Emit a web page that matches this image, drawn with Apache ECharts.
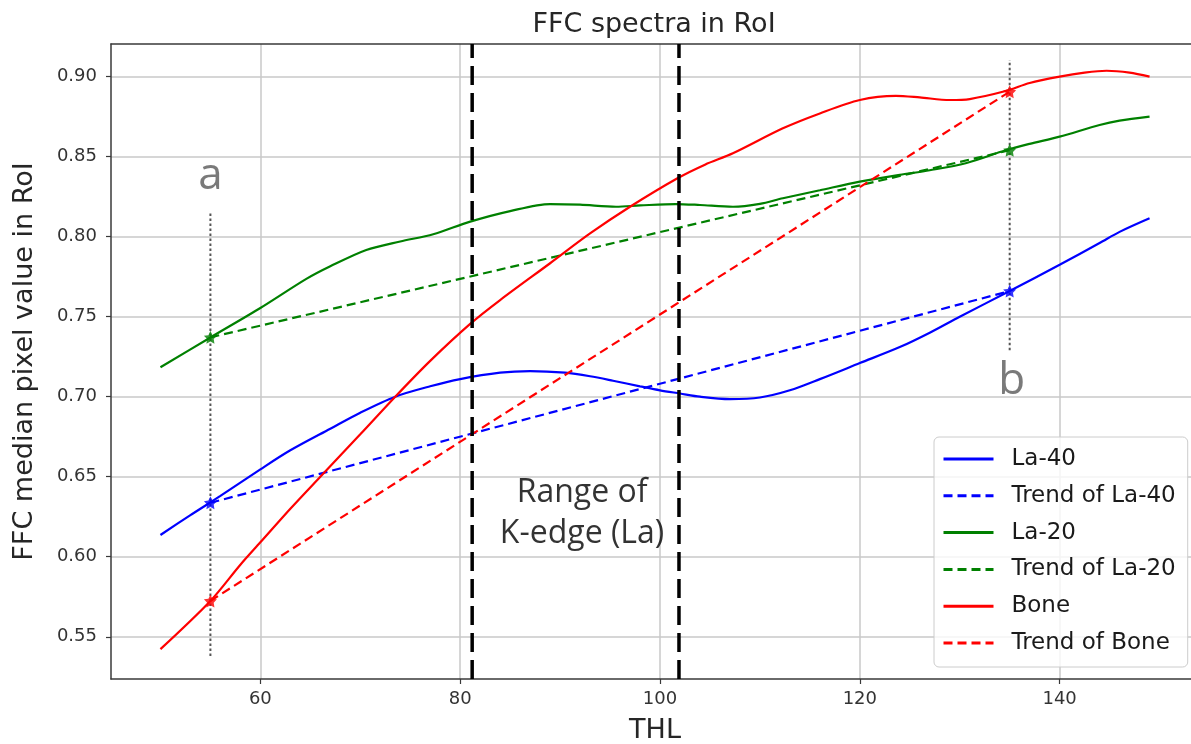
<!DOCTYPE html>
<html>
<head>
<meta charset="utf-8">
<script src="https://cdn.jsdelivr.net/npm/echarts@6/dist/echarts.min.js"></script>
<style>
html,body{margin:0;padding:0;background:#fff;}
#c{width:1191px;height:744px;}
</style>
</head>
<body>
<div id="c"></div>
<script>
// ---- data ----
const xTicks = [60, 80, 100, 120, 140];
const yTicks = [0.55, 0.60, 0.65, 0.70, 0.75, 0.80, 0.85, 0.90];

const la40X = [50,53,56,60,63,67,70,73.5,77,80,84,87,90.5,93,95.3,98,100,102,104,107,110,113,116,120,124,127,130,135,140,144,146,149];
const la40Y = [0.6136,0.626,0.638,0.6546,0.6665,0.680,0.690,0.700,0.7065,0.711,0.715,0.716,0.715,0.7128,0.710,0.7065,0.704,0.702,0.700,0.6985,0.6995,0.704,0.711,0.721,0.731,0.740,0.750,0.766,0.7825,0.796,0.803,0.8115];

const la20X = [50,55,60,64.6,67,70.6,74,77.3,81,85,89,92,95.6,98,101.6,104,107.3,110,112.3,116,120,124,127,130.6,134.6,137,140,144,146,149];
const la20Y = [0.7184,0.737,0.7554,0.7736,0.7815,0.7917,0.797,0.8015,0.8094,0.816,0.8204,0.820,0.8187,0.8195,0.8204,0.8198,0.8187,0.8205,0.824,0.829,0.8344,0.8386,0.8415,0.8459,0.854,0.858,0.8625,0.8698,0.8725,0.875];

const boneX = [50,55,58,60,63,66,70,73.5,77,81,84,89,93,97,101.75,104.5,107.3,112.3,116,120,123.6,126,129,131,134.6,137,140,142.5,144.7,147,149];
const boneY = [0.5423,0.5724,0.595,0.609,0.630,0.650,0.6765,0.700,0.7224,0.7455,0.7604,0.7834,0.802,0.8187,0.8365,0.845,0.8521,0.8677,0.877,0.8854,0.888,0.887,0.8854,0.886,0.891,0.896,0.900,0.9025,0.9037,0.9025,0.900];

const trendX = [55, 135];
const trendLa40 = [0.6337, 0.766];
const trendLa20 = [0.7371, 0.854];
const trendBone = [0.5724, 0.8906];

const kEdgeX = [81.2, 101.9];
const yRange = [0.5236, 0.9204];
const xRange = [45.05, 153.95];

const dotA = {x: 55, y: [0.538, 0.8148]};
const dotB = {x: 135, y: [0.729, 0.9104]};

const letterTexts = ['a', 'b'];
const letterX = [55, 135.2];
const letterY = [0.8375, 0.7095];
const kEdgeText = 'Range of\nK-edge (La)';
const kEdgePos = [92.2, 0.627];

const seriesNames = ['La-40', 'Trend of La-40', 'La-20', 'Trend of La-20', 'Bone', 'Trend of Bone'];

// ---- build chart ----
const BLUE = '#0000ff', GREEN = '#008000', RED = '#ff0000';
const AX = '#3a3a3a';
const FONT = 'DejaVu Sans';
const STAR = 'path://M0,-10 L2.9,-4 L9.5,-3.1 L4.8,1.5 L5.9,8.1 L0,5 L-5.9,8.1 L-4.8,1.5 L-9.5,-3.1 L-2.9,-4 Z';
const zip = (xs, ys) => xs.map((x, i) => [x, ys[i]]);

function curve(name, xs, ys, color) {
  return {name, type: 'line', data: zip(xs, ys), symbol: 'none', smooth: 0.3,
    lineStyle: {color, width: 2.2}, itemStyle: {color}, z: 3, silent: true};
}
function trend(name, ys, color) {
  return {name, type: 'line', data: zip(trendX, ys), symbol: 'none',
    lineStyle: {color, width: 2.2, type: [9, 5]}, itemStyle: {color}, z: 3, silent: true};
}
function stars(ys, color) {
  return {type: 'scatter', data: zip(trendX, ys), symbol: STAR, symbolSize: 13,
    itemStyle: {color}, z: 6, silent: true};
}

const chart = echarts.init(document.getElementById('c'), null, {renderer: 'canvas'});
chart.setOption({
  animation: false,
  backgroundColor: '#ffffff',
  title: {
    text: 'FFC spectra in RoI', left: 649, top: 6, textAlign: 'center',
    textStyle: {fontFamily: FONT, fontSize: 27, fontWeight: 'normal', color: '#262626'}
  },
  grid: {left: 111, top: 44, width: 1088, height: 635, show: false,
    containLabel: false, outerBoundsMode: 'none'},
  xAxis: [{
    type: 'value', min: xRange[0], max: xRange[1],
    name: 'THL', nameLocation: 'middle', nameGap: 38,
    nameTextStyle: {fontFamily: FONT, fontSize: 27, color: '#262626'},
    axisLine: {show: true, lineStyle: {color: AX, width: 1.5}},
    axisTick: {show: true, length: 5, lineStyle: {color: AX, width: 1.2}, customValues: xTicks},
    axisLabel: {customValues: xTicks, fontFamily: FONT, fontSize: 18, color: '#333', margin: 11},
    splitLine: {show: true, lineStyle: {color: '#c8c8c8', width: 1.5}}
  }, {
    type: 'value', position: 'top', min: xRange[0], max: xRange[1],
    axisLine: {show: true, lineStyle: {color: AX, width: 1.5}},
    axisTick: {show: false}, axisLabel: {show: false}, splitLine: {show: false}
  }],
  yAxis: {
    type: 'value', min: yRange[0], max: yRange[1],
    name: 'FFC median pixel value in RoI', nameLocation: 'middle', nameGap: 73,
    nameTextStyle: {fontFamily: FONT, fontSize: 27, color: '#262626'},
    axisLine: {show: true, lineStyle: {color: AX, width: 1.5}},
    axisTick: {show: true, length: 5, lineStyle: {color: AX, width: 1.2}, customValues: yTicks},
    axisLabel: {customValues: yTicks, fontFamily: FONT, fontSize: 18, color: '#333', margin: 14,
      formatter: v => v.toFixed(2)},
    splitLine: {show: true, lineStyle: {color: '#c8c8c8', width: 1.5}}
  },
  legend: {
    orient: 'vertical', left: 934, top: 437,
    padding: [10, 12, 12, 8], itemWidth: 50, itemHeight: 24, itemGap: 12.8,
    backgroundColor: 'rgba(255,255,255,0.8)', borderColor: '#cccccc', borderWidth: 1, borderRadius: 5,
    selectedMode: false,
    itemStyle: {opacity: 0},
    lineStyle: {width: 3},
    textStyle: {fontFamily: FONT, fontSize: 23, lineHeight: 24, color: '#1a1a1a', padding: [0, 0, 0, 13]},
    data: seriesNames
  },
  series: [
    curve(seriesNames[0], la40X, la40Y, BLUE),
    trend(seriesNames[1], trendLa40, BLUE),
    curve(seriesNames[2], la20X, la20Y, GREEN),
    trend(seriesNames[3], trendLa20, GREEN),
    curve(seriesNames[4], boneX, boneY, RED),
    trend(seriesNames[5], trendBone, RED),
    stars(trendLa40, BLUE),
    stars(trendLa20, GREEN),
    stars(trendBone, RED),
    // K-edge range lines
    ...kEdgeX.map(x => ({type: 'line', data: [[x, yRange[0]], [x, yRange[1]]], symbol: 'none',
      lineStyle: {color: '#000', width: 3.5, type: [19, 8]}, z: 4, silent: true})),
    // dotted guide lines
    ...[dotA, dotB].map(d => ({type: 'line', data: [[d.x, d.y[0]], [d.x, d.y[1]]], symbol: 'none',
      lineStyle: {color: '#555', width: 2, type: [2.5, 2.5]}, z: 4, silent: true})),
    // letters
    {type: 'scatter', symbolSize: 1, itemStyle: {color: 'transparent'}, silent: true, z: 7,
      data: letterTexts.map((t, i) => ({value: [letterX[i], letterY[i]], name: t})),
      label: {show: true, position: 'inside', formatter: p => p.name,
        fontFamily: 'Open Sans', fontSize: 44, color: '#595959'}},
    {type: 'scatter', symbolSize: 1, itemStyle: {color: 'transparent'}, silent: true, z: 7,
      data: [{value: kEdgePos, name: kEdgeText}],
      label: {show: true, position: 'inside', formatter: p => p.name, align: 'center',
        fontFamily: 'Open Sans', fontSize: 32, lineHeight: 41, color: '#000'}}
  ]
});
</script>
</body>
</html>
